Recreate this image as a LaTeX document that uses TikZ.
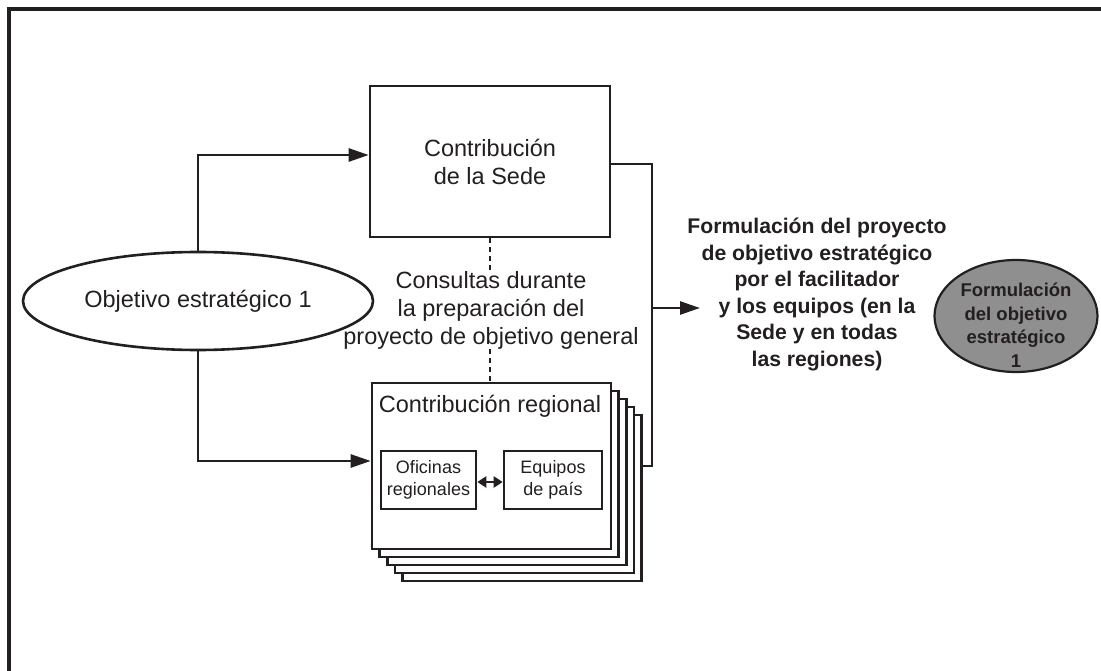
\documentclass[tikz,border=0pt]{standalone}
\usepackage{fontspec}
\setmainfont{Liberation Sans}
\usetikzlibrary{shapes.geometric,arrows.meta,calc}
\definecolor{ink}{RGB}{35,31,32}
\definecolor{oval}{RGB}{143,143,143}
\tikzset{
  box/.style={draw=ink, line width=2.6pt, fill=white, rectangle, inner sep=0pt},
  arr/.style={draw=ink, line width=2.6pt, -{Triangle[length=20pt,width=13pt]}},
  link/.style={draw=ink, line width=2.6pt},
  dlink/.style={draw=ink, line width=2.2pt, dash pattern=on 5pt off 4pt},
  txt/.style={font=\fontsize{23.5}{28}\selectfont, align=center, text=ink, inner sep=0pt},
  small/.style={font=\fontsize{18}{22}\selectfont, align=center, text=ink},
  bold/.style={font=\bfseries\fontsize{21.2}{26.6}\selectfont, align=center, text=ink, inner sep=0pt},
}
\begin{document}
\begin{tikzpicture}[x=1pt,y=-1pt]
\useasboundingbox (0,0) rectangle (1101,671);
% outer frame (runs past the right and bottom edges)
\draw[draw=ink, line width=3.5pt] (1120,9) -- (9,9) -- (9,690);

% nodes
\node[draw=ink, line width=2.6pt, ellipse, minimum width=350pt, minimum height=98pt, inner sep=0pt, txt] (obj) at (198,301) {Objetivo estratégico 1};
\node[box, minimum width=240pt, minimum height=151pt, txt] (sede) at (490,161.5) {Contribución\\de la Sede};

\foreach \i in {4,3,2,1}{
  \node[box, minimum width=239pt, minimum height=166pt] (b\i) at ({491.5+7.6*\i},{466+8*\i}) {};
}
\node[box, minimum width=239pt, minimum height=166pt] (reg) at (491.5,466) {};
\node[txt] (regt) at (490,406) {Contribución regional};
\node[box, minimum width=95pt, minimum height=58pt, small] (ofi) at (428.5,480) {Oficinas\\regionales};
\node[box, minimum width=98pt, minimum height=58pt, small] (equ) at (553,480) {Equipos\\de país};

\node[txt] (cons) at (491,310) {Consultas durante\\la preparación del\\proyecto de objetivo general};

\node[bold] (form) at (817,294.5) {Formulación del proyecto\\de objetivo estratégico\\por el facilitador\\y los equipos (en la\\Sede y en todas\\las regiones)};

\node[draw=ink, line width=2.2pt, ellipse, fill=oval, minimum width=163pt, minimum height=112pt, inner sep=0pt] (fin) at (1016,316) {};
\node[font=\bfseries\fontsize{18.5}{23.5}\selectfont, align=center, text=ink, inner sep=0pt] (fint) at (1016,325) {Formulación\\del objetivo\\estratégico\\1};

% connectors
\coordinate (j) at (652,308);
\coordinate (aend) at (700,308);
\draw[arr] (obj.north) |- ([yshift=6.5pt]sede.west);
\draw[arr] (obj.south) |- ([yshift=5pt]reg.west);
\draw[link] ([yshift=-2.5pt]sede.east) -| (j);
\draw[link] (reg.east -| b4.east) -| (j);
\draw[arr] (j) -- (aend);
\draw[dlink] (sede.south) -- (cons.north -| sede.south);
\draw[dlink] (cons.south -| sede.south) -- (reg.north -| sede.south);
\draw[draw=ink, line width=2.4pt, {Triangle[length=9pt,width=11pt]}-{Triangle[length=9pt,width=11pt]}] ([yshift=-2pt]ofi.east) -- ([yshift=-2pt]equ.west);
\end{tikzpicture}
\end{document}
